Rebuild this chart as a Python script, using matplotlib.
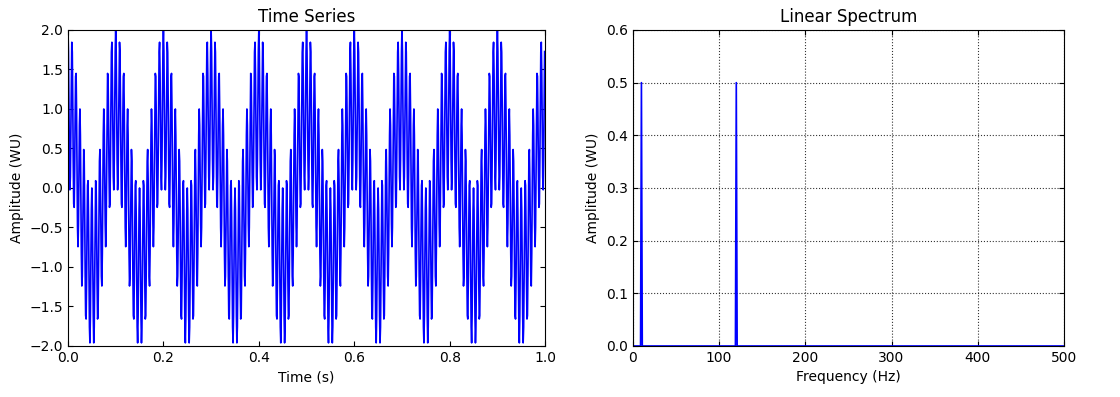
import numpy as np
import matplotlib
matplotlib.use('Agg')
import matplotlib.pyplot as plt

# signal parameters
fs = 1000            # sample rate (Hz), spectrum runs to 500 Hz
duration = 1.0       # seconds
freqs = [10, 120]    # Hz
amps = [1.0, 1.0]    # WU

t = np.arange(0, duration, 1.0 / fs)
signal = np.zeros_like(t)
for f, a in zip(freqs, amps):
    signal += a * np.cos(2 * np.pi * f * t)

# two-sided linear spectrum, positive half
n = len(signal)
spec = np.abs(np.fft.fft(signal)) / n
fax = np.fft.fftfreq(n, 1.0 / fs)
half = n // 2
fax = fax[:half]
spec = spec[:half]

plt.rcParams['xtick.direction'] = 'in'
plt.rcParams['ytick.direction'] = 'in'
plt.rcParams['xtick.top'] = True
plt.rcParams['ytick.right'] = True
plt.rcParams['font.size'] = 10

fig = plt.figure(figsize=(11.2, 3.97), dpi=100)

ax1 = fig.add_axes([0.0607, 0.1285, 0.426, 0.796])
ax1.plot(t, signal, color='b', linewidth=1.2)
ax1.set_xlim(0, 1.0)
ax1.set_ylim(-2.0, 2.0)
ax1.set_xticks(np.arange(0, 1.01, 0.2))
ax1.set_yticks(np.arange(-2.0, 2.01, 0.5))
ax1.set_title('Time Series', fontsize=12)
ax1.set_xlabel('Time (s)')
ax1.set_ylabel('Amplitude (WU)')

ax2 = fig.add_axes([0.565, 0.1285, 0.385, 0.796])
ax2.plot(fax, spec, color='b', linewidth=1.2)
ax2.set_xlim(0, 500)
ax2.set_ylim(0, 0.6)
ax2.set_yticks(np.arange(0, 0.61, 0.1))
ax2.grid(True, color='black', linestyle=':', linewidth=0.8, alpha=0.8)
ax2.set_title('Linear Spectrum', fontsize=12)
ax2.set_xlabel('Frequency (Hz)')
ax2.set_ylabel('Amplitude (WU)')

fig.savefig('out.png', dpi=100)
